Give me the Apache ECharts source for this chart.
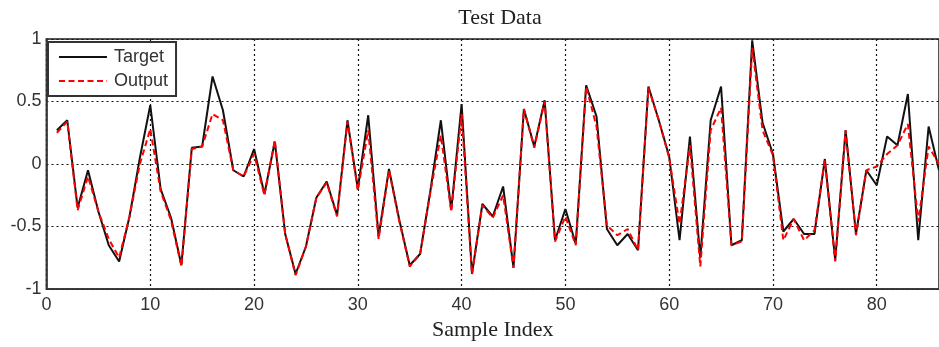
<!DOCTYPE html>
<html>
<head>
<meta charset="utf-8">
<script src="https://cdn.jsdelivr.net/npm/echarts@6/dist/echarts.min.js"></script>
<style>html,body{margin:0;padding:0;background:#fff;}#c{width:939px;height:347px;}</style>
</head>
<body>
<div id="c"></div>
<script>
const sampleIndex = [];
for (let i = 1; i <= 86; i++) sampleIndex.push(i);
const target = [0.27,0.35,-0.35,-0.05,-0.38,-0.65,-0.78,-0.42,0.05,0.47,
  -0.20,-0.43,-0.81,0.13,0.14,0.70,0.43,-0.05,-0.10,0.12,
  -0.24,0.18,-0.56,-0.88,-0.66,-0.27,-0.14,-0.41,0.35,-0.20,
  0.39,-0.58,-0.04,-0.45,-0.81,-0.72,-0.21,0.35,-0.37,0.48,
  -0.88,-0.32,-0.42,-0.18,-0.83,0.44,0.14,0.51,-0.61,-0.36,
  -0.64,0.63,0.38,-0.52,-0.65,-0.56,-0.69,0.62,0.35,0.06,
  -0.61,0.22,-0.75,0.35,0.62,-0.65,-0.61,0.99,0.33,0.08,
  -0.54,-0.44,-0.56,-0.56,0.04,-0.77,0.27,-0.56,-0.05,-0.17,
  0.22,0.15,0.56,-0.61,0.30,-0.05];
const output = [0.25,0.34,-0.37,-0.10,-0.38,-0.60,-0.75,-0.42,0.00,0.28,
  -0.22,-0.45,-0.82,0.12,0.14,0.40,0.35,-0.05,-0.10,0.08,
  -0.25,0.19,-0.56,-0.89,-0.66,-0.27,-0.15,-0.42,0.34,-0.21,
  0.27,-0.60,-0.05,-0.46,-0.82,-0.72,-0.22,0.23,-0.38,0.40,
  -0.88,-0.33,-0.43,-0.25,-0.83,0.44,0.13,0.50,-0.62,-0.42,
  -0.65,0.62,0.30,-0.49,-0.57,-0.52,-0.69,0.61,0.35,0.05,
  -0.48,0.15,-0.82,0.27,0.45,-0.65,-0.62,0.93,0.27,0.07,
  -0.61,-0.44,-0.61,-0.53,0.03,-0.78,0.27,-0.57,-0.05,-0.02,
  0.08,0.15,0.32,-0.46,0.14,0.00];
const yTickLabels = {'1':'1','0.5':'0.5','0':'0','-0.5':'-0.5','-1':'-1'};

const chart = echarts.init(document.getElementById('c'), null, {renderer:'canvas'});
chart.setOption({
  animation:false,
  title:{text:'Test Data', left:495, textAlign:'center', top:2,
    textStyle:{fontFamily:'Liberation Serif', fontWeight:'normal', fontSize:22, color:'#222'}},
  grid:{left:46.5, right:-3.6, top:39, bottom:58, show:true, borderColor:'#555', borderWidth:2, backgroundColor:'#fff'},
  legend:{left:48, top:42, orient:'vertical', itemWidth:48, itemHeight:18, itemGap:6,
    padding:[6,8,6,10], borderColor:'#333', borderWidth:2, backgroundColor:'#fff',
    itemStyle:{opacity:0},
    textStyle:{fontFamily:'Liberation Sans', fontSize:18, color:'#333', padding:[0,0,0,2]},
    data:[{name:'Target'},{name:'Output'}]},
  xAxis:{type:'value', min:0, max:86, interval:10,
    name:'Sample Index', nameLocation:'middle', nameGap:27,
    nameTextStyle:{fontFamily:'Liberation Serif', fontSize:22, color:'#222'},
    axisLine:{show:true, onZero:false, lineStyle:{color:'#333', width:1.5}},
    axisTick:{show:false},
    axisLabel:{fontFamily:'Liberation Sans', fontSize:18, color:'#333', margin:7, showMaxLabel:false},
    splitLine:{show:true, lineStyle:{color:'#111', type:[2,3], width:1.2}}},
  yAxis:{type:'value', min:-1, max:1, interval:0.5,
    axisLine:{show:true, onZero:false, lineStyle:{color:'#333', width:1.5}},
    axisTick:{show:false},
    axisLabel:{fontFamily:'Liberation Sans', fontSize:18, color:'#333', margin:5,
      formatter:v=>yTickLabels[String(v)] ?? String(v)},
    splitLine:{show:true, lineStyle:{color:'#111', type:[2,3], width:1.2}}},
  series:[
    {name:'Target', type:'line', data:sampleIndex.map((x,i)=>[x,target[i]]),
      symbol:'none', lineStyle:{color:'#111', width:2}, itemStyle:{color:'#111'}, z:2},
    {name:'Output', type:'line', data:sampleIndex.map((x,i)=>[x,output[i]]),
      symbol:'none', lineStyle:{color:'#f00', width:2, type:[6,3.5]}, itemStyle:{color:'#f00'}, z:3}
  ]
});
</script>
</body>
</html>
